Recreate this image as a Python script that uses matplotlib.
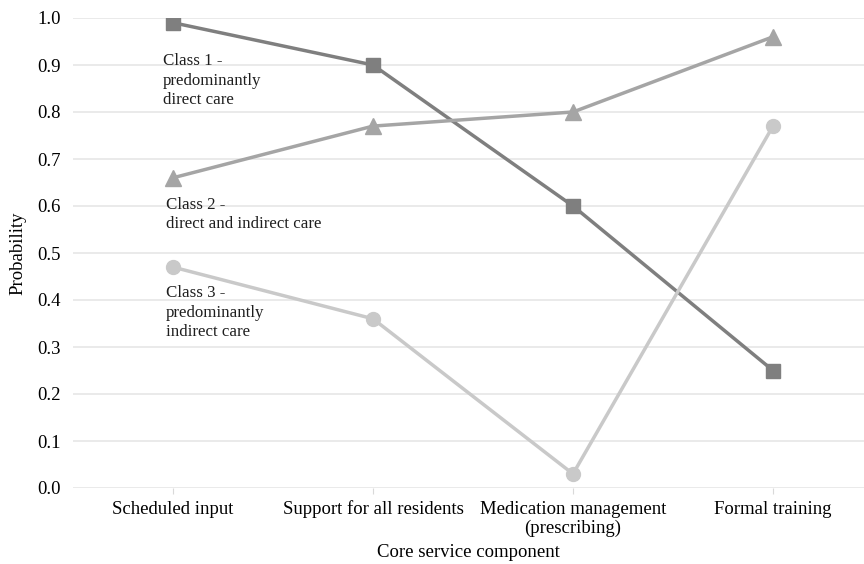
import matplotlib
matplotlib.use("Agg")
import matplotlib.pyplot as plt

plt.rcParams['font.family'] = ['Liberation Serif', 'DejaVu Serif']

categories = ["Scheduled input", "Support for all residents",
              "Medication management\n(prescribing)", "Formal training"]
class1 = [0.99, 0.90, 0.60, 0.25]
class2 = [0.66, 0.77, 0.80, 0.96]
class3 = [0.47, 0.36, 0.03, 0.77]
yticks = [0.0, 0.1, 0.2, 0.3, 0.4, 0.5, 0.6, 0.7, 0.8, 0.9, 1.0]

fig = plt.figure(figsize=(8.64, 5.64), dpi=100)
ax = fig.add_axes([73 / 864, 76 / 564, 1 - 73 / 864, 470 / 564])

x = range(len(categories))
ax.plot(x, class1, color='#7f7f7f', lw=2.5, marker='s', ms=10, zorder=3)
ax.plot(x, class2, color='#a5a5a5', lw=2.5, marker='^', ms=11, zorder=3)
ax.plot(x, class3, color='#c9c9c9', lw=2.5, marker='o', ms=10, zorder=3)

lbl = dict(fontsize=12.2, va='top', ha='left', color='#1e1e1e', linespacing=1.3)
ax.text(-0.05, 0.925, "Class 1 -\npredominantly\ndirect care", **lbl)
ax.text(-0.035, 0.62, "Class 2 -\ndirect and indirect care", **lbl)
ax.text(-0.035, 0.432, "Class 3 -\npredominantly\nindirect care", **lbl)

ax.set_xlim(-0.5, 3.455)
ax.set_ylim(0, 1.0)
ax.set_yticks(yticks)
ax.set_yticklabels([f"{v:.1f}" for v in yticks], fontsize=13.5)
ax.set_xticks(list(x))
ax.set_xticklabels(categories, fontsize=13.5, linespacing=1.15)
ax.tick_params(axis='y', length=0, pad=9)
ax.tick_params(axis='x', length=4, color='#d9d9d9', pad=5)
ax.grid(axis='y', color='#e6e6e6', lw=1.2)
ax.set_axisbelow(True)
for s in ax.spines.values():
    s.set_visible(False)

ax.set_ylabel("Probability", fontsize=13.5)
ax.set_xlabel("Core service component", fontsize=13.5, labelpad=5)
ax.yaxis.set_label_coords(-47 / 791, 0.5)

fig.savefig("out.png", dpi=100)
